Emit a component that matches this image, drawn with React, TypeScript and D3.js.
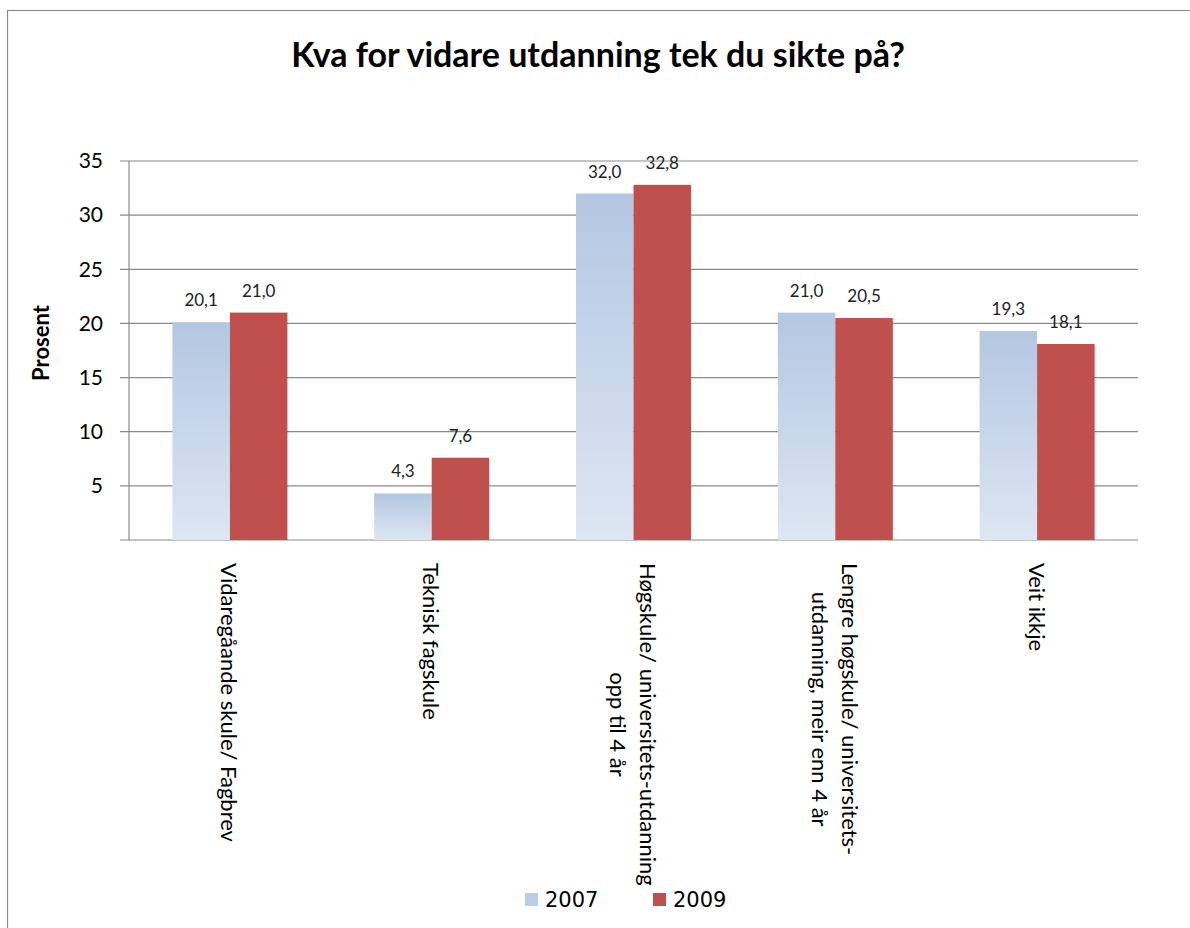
import React, { useRef, useEffect } from "react";
import * as d3 from "d3";

const categories = [
  ["Vidaregåande skule/ Fagbrev"],
  ["Teknisk fagskule"],
  ["Høgskule/ universitets-utdanning", "opp til 4 år"],
  ["Lengre høgskule/ universitets-", "utdanning, meir enn 4 år"],
  ["Veit ikkje"],
];
const seriesNames = ["2007", "2009"];
const values2007 = [20.1, 4.3, 32.0, 21.0, 19.3];
const values2009 = [21.0, 7.6, 32.8, 20.5, 18.1];
const yTicks = [5, 10, 15, 20, 25, 30, 35];

const W = 1190;
const H = 928;
const FONT = "Lato, 'Open Sans', sans-serif";

export default function App() {
  const ref = useRef<SVGSVGElement>(null);

  useEffect(() => {
    const svg = d3.select(ref.current);
    svg.selectAll("*").remove();

    const margin = { top: 161, right: 52, bottom: 388, left: 129 };
    const plotW = W - margin.left - margin.right;
    const plotH = H - margin.top - margin.bottom;

    // gradient for the 2007 bars
    const defs = svg.append("defs");
    const grad = defs.append("linearGradient")
      .attr("id", "blueGrad")
      .attr("x1", 0).attr("y1", 0).attr("x2", 0).attr("y2", 1);
    grad.append("stop").attr("offset", "0%").attr("stop-color", "#b3c7e2");
    grad.append("stop").attr("offset", "100%").attr("stop-color", "#dde6f2");

    // chart border (only top and left visible)
    svg.append("rect")
      .attr("x", 7.5).attr("y", 10.5)
      .attr("width", W + 20).attr("height", H + 20)
      .attr("fill", "white")
      .attr("stroke", "#8c8c8c")
      .attr("stroke-width", 1.2);

    const g = svg.append("g").attr("transform", `translate(${margin.left},${margin.top})`);

    const x0 = d3.scaleBand<number>()
      .domain(d3.range(categories.length))
      .range([0, plotW])
      .paddingInner(0.43)
      .paddingOuter(0.215);
    const x1 = d3.scaleBand<string>()
      .domain(seriesNames)
      .range([0, x0.bandwidth()]);
    const y = d3.scaleLinear().domain([0, 35]).range([plotH, 0]);

    // gridlines + ticks
    g.append("g")
      .selectAll("line")
      .data(yTicks)
      .join("line")
      .attr("x1", -9)
      .attr("x2", plotW)
      .attr("y1", d => y(d))
      .attr("y2", d => y(d))
      .attr("stroke", "#8a8a8a")
      .attr("stroke-width", 1.2);

    g.append("g")
      .selectAll("text")
      .data(yTicks)
      .join("text")
      .attr("x", -26)
      .attr("y", d => y(d))
      .attr("dy", "0.35em")
      .attr("text-anchor", "end")
      .attr("font-family", FONT)
      .attr("font-size", 21)
      .attr("fill", "#000")
      .text(d => d);

    // axes
    g.append("line")
      .attr("x1", 0).attr("x2", 0)
      .attr("y1", 0).attr("y2", plotH)
      .attr("stroke", "#8a8a8a").attr("stroke-width", 1.2);
    g.append("line")
      .attr("x1", -9).attr("x2", plotW)
      .attr("y1", plotH).attr("y2", plotH)
      .attr("stroke", "#8a8a8a").attr("stroke-width", 1.2);

    const data = categories.map((c, i) => ({ i, vals: [values2007[i], values2009[i]] }));

    const groups = g.append("g")
      .selectAll("g")
      .data(data)
      .join("g")
      .attr("transform", d => `translate(${x0(d.i)},0)`);

    groups.selectAll("rect")
      .data(d => d.vals.map((v, k) => ({ v, s: seriesNames[k] })))
      .join("rect")
      .attr("x", d => x1(d.s)!)
      .attr("width", x1.bandwidth())
      .attr("y", d => y(d.v))
      .attr("height", d => plotH - y(d.v))
      .attr("fill", d => (d.s === "2007" ? "url(#blueGrad)" : "#c0504d"));

    groups.selectAll("text")
      .data(d => d.vals.map((v, k) => ({ v, s: seriesNames[k] })))
      .join("text")
      .attr("x", d => x1(d.s)! + x1.bandwidth() / 2)
      .attr("y", d => y(d.v) - 16)
      .attr("text-anchor", "middle")
      .attr("font-family", FONT)
      .attr("font-size", 17)
      .attr("fill", "#222")
      .text(d => d3.format(".1f")(d.v).replace(".", ","));

    // category labels, rotated to read top to bottom
    const lineH = 30;
    categories.forEach((lines, i) => {
      const cx = margin.left + x0(i)! + x0.bandwidth() / 2;
      const lg = svg.append("g").attr("transform", `translate(${cx},563) rotate(90)`);
      const texts = lines.map(ln =>
        lg.append("text")
          .attr("font-family", FONT)
          .attr("font-size", 22)
          .attr("fill", "#000")
          .attr("dominant-baseline", "central")
          .attr("text-anchor", "middle")
          .text(ln)
      );
      const lens = texts.map(t => (t.node() as SVGTextElement).getComputedTextLength());
      const maxLen = d3.max(lens) || 0;
      texts.forEach((t, k) => {
        t.attr("x", maxLen / 2)
          .attr("y", (k - (lines.length - 1) / 2) * lineH);
      });
    });

    // title
    svg.append("text")
      .attr("x", 598)
      .attr("y", 67)
      .attr("text-anchor", "middle")
      .attr("font-family", FONT)
      .attr("font-weight", "bold")
      .attr("font-size", 34)
      .attr("fill", "#000")
      .text("Kva for vidare utdanning tek du sikte på?");

    // y axis title
    svg.append("text")
      .attr("transform", `translate(41,343) rotate(-90)`)
      .attr("text-anchor", "middle")
      .attr("dy", "0.35em")
      .attr("font-family", FONT)
      .attr("font-weight", "bold")
      .attr("font-size", 22)
      .attr("fill", "#000")
      .text("Prosent");

    // legend
    const legend = svg.append("g").attr("transform", "translate(525,893)");
    const legendX = d3.scaleOrdinal<string, number>().domain(seriesNames).range([0, 128]);
    seriesNames.forEach(s => {
      const lg = legend.append("g").attr("transform", `translate(${legendX(s)},0)`);
      lg.append("rect")
        .attr("width", 13).attr("height", 13)
        .attr("fill", s === "2007" ? "#bccde6" : "#c0504d");
      lg.append("text")
        .attr("x", 20)
        .attr("y", 7)
        .attr("dy", "0.35em")
        .attr("font-family", "'DejaVu Sans', Verdana, sans-serif")
        .attr("font-size", 21)
        .attr("fill", "#000")
        .text(s);
    });
  }, []);

  return (
    <div style={{ position: "absolute", left: 0, top: 0 }}>
      <svg ref={ref} width={W} height={H} style={{ display: "block" }}></svg>
    </div>
  );
}
